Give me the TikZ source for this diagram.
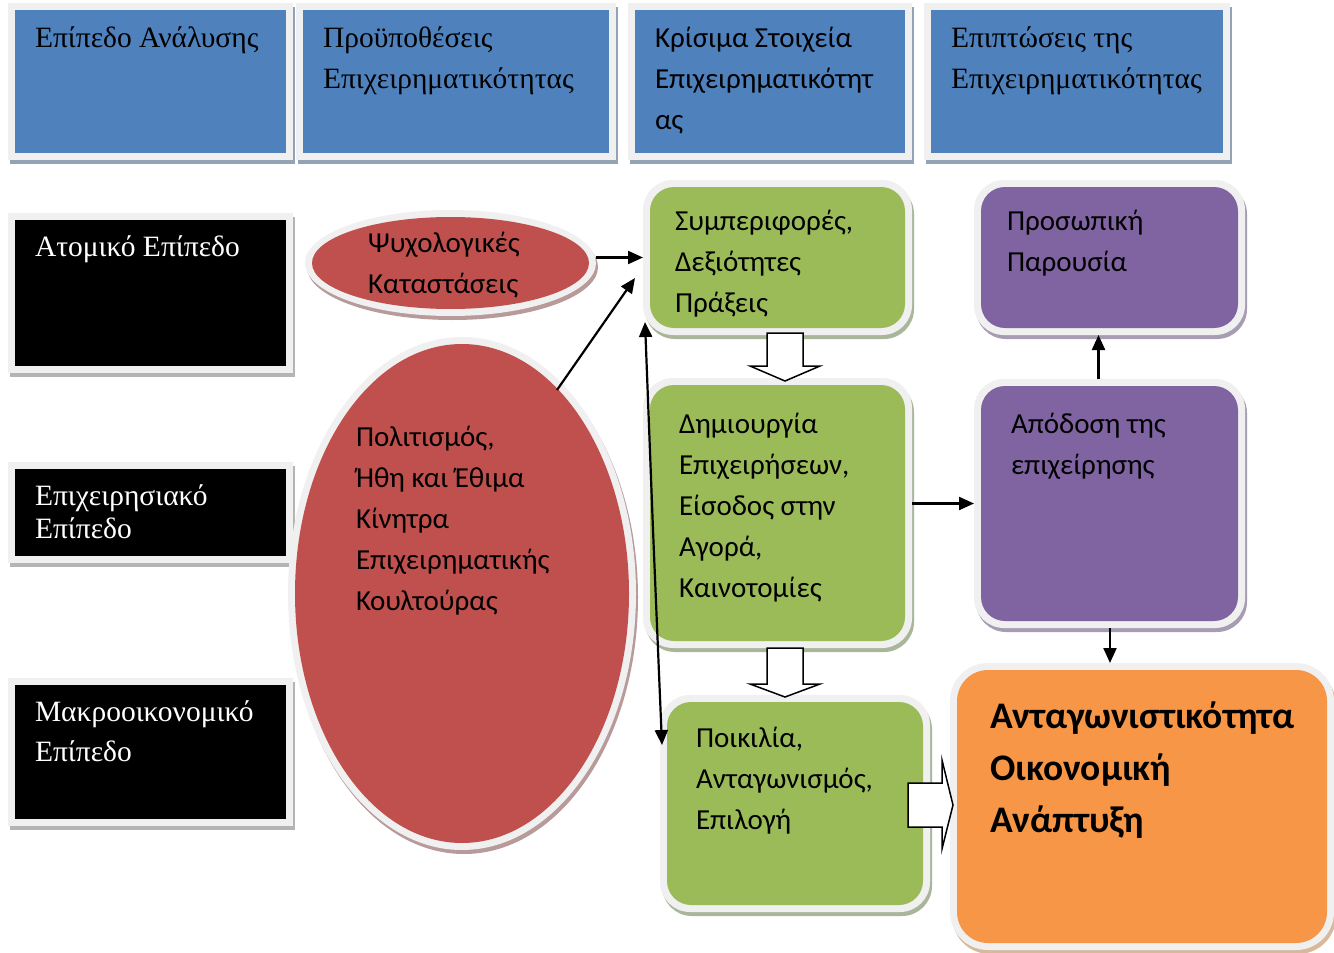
\documentclass[tikz,border=0pt]{standalone}
\usepackage{fontspec}
\setmainfont{Liberation Serif}
\newfontfamily\calib{Carlito}
\usetikzlibrary{shapes.geometric,arrows.meta,calc}
\definecolor{hblue}{HTML}{4F81BD}
\definecolor{rred}{HTML}{C0504D}
\definecolor{ggreen}{HTML}{9BBB59}
\definecolor{ppurple}{HTML}{8064A2}
\definecolor{oorange}{HTML}{F79646}
\definecolor{framegray}{HTML}{F0F0F0}
\definecolor{shblue}{HTML}{93A2B5}
\definecolor{shblack}{HTML}{B4B4B4}
\definecolor{shred}{HTML}{B89A9A}
\definecolor{shgreen}{HTML}{A9B69A}
\definecolor{shpurple}{HTML}{A79DB3}
\definecolor{shorange}{HTML}{D9B99C}
\newcommand\layered[7]{%
  \node[#5, fill=#7, minimum width=#3, minimum height=#4] at ($#2+(2,4)$) {};
  \node[#5, fill=framegray, minimum width=#3, minimum height=#4] (#1) at #2 {};
  \node[#5 inner, fill=#6, minimum width=#3-14, minimum height=#4-14] at (#1.center) {};
}
\begin{document}
\begin{tikzpicture}[x=1pt,y=-1pt,
  sq/.style={rectangle, inner sep=0, outer sep=0},
  sq inner/.style={rectangle, inner sep=0, outer sep=0},
  rnd/.style={rectangle, rounded corners=30pt, inner sep=0, outer sep=0},
  rnd inner/.style={rectangle, rounded corners=24pt, inner sep=0, outer sep=0},
  rndL/.style={rectangle, rounded corners=38pt, inner sep=0, outer sep=0},
  rndL inner/.style={rectangle, rounded corners=31pt, inner sep=0, outer sep=0},
  ell/.style={ellipse, inner sep=0, outer sep=0},
  ell inner/.style={ellipse, inner sep=0, outer sep=0},
  txt/.style={anchor=north west, inner sep=0, outer sep=0, align=left},
  serif/.style={font=\fontsize{29.5}{41}\selectfont},
  sans/.style={font=\calib\fontsize{29}{41}\selectfont},
  bsans/.style={font=\calib\bfseries\fontsize{37.5}{52}\selectfont},
  arr/.style={line width=2.2pt, -{Triangle[length=15pt,width=13pt]}},
  block/.style={draw=black, fill=white, line width=1.5pt, line join=miter}
]
\useasboundingbox (0,0) rectangle (1334,953);
\fill[white] (0,0) rectangle (1334,953);

% header boxes
\layered{h1}{(150.5,81.5)}{285}{157}{sq}{hblue}{shblue}
\layered{h2}{(456,81.5)}{320}{157}{sq}{hblue}{shblue}
\layered{h3}{(770,81.5)}{284}{157}{sq}{hblue}{shblue}
\layered{h4}{(1077,81.5)}{306}{157}{sq}{hblue}{shblue}

% level boxes
\layered{b1}{(150.5,293)}{285}{160}{sq}{black}{shblack}
\layered{b2}{(150.5,512.5)}{285}{101}{sq}{black}{shblack}
\layered{b3}{(150.5,752)}{285}{148}{sq}{black}{shblack}

% ellipses
\layered{e1}{(450.5,263)}{291}{106}{ell}{rred}{shred}
\layered{e2}{(462,593.5)}{348}{513}{ell}{rred}{shred}

% green boxes
\layered{g1}{(777.5,257.5)}{269}{155}{rnd}{ggreen}{shgreen}
\layered{g2}{(777.5,513)}{269}{270}{rnd}{ggreen}{shgreen}
\layered{g3}{(795,803.5)}{270}{217}{rnd}{ggreen}{shgreen}

% purple boxes
\layered{p1}{(1109.5,257.5)}{271}{155}{rnd}{ppurple}{shpurple}
\layered{p2}{(1109.5,503.5)}{271}{249}{rnd}{ppurple}{shpurple}

% orange box
\layered{o1}{(1142,806.5)}{384}{287}{rndL}{oorange}{shorange}

% texts
\node[txt, serif] (th1) at (35,18.3) {\strut Επίπεδο Ανάλυσης};
\node[txt, serif] (th2) at (323,18.3) {\strut Προϋποθέσεις\\Επιχειρηματικότητας};
\node[txt, sans] (th3) at (655,18.3) {\strut Κρίσιμα Στοιχεία\\Επιχειρηματικότητ\\ας};
\node[txt, serif] (th4) at (951,18.3) {\strut Επιπτώσεις της\\Επιχειρηματικότητας};

\node[txt, serif, text=white] (tb1) at (35,227.3) {\strut Ατομικό Επίπεδο};
\node[txt, serif, text=white, font=\fontsize{29.5}{33}\selectfont] (tb2) at (35,481.9) {\strut Επιχειρησιακό\\Επίπεδο};
\node[txt, serif, text=white, font=\fontsize{29.5}{40}\selectfont] (tb3) at (35,693) {\strut Μακροοικονομικό\\Επίπεδο};

\node[txt, sans] (te1) at (368,223.3) {\strut Ψυχολογικές\\Καταστάσεις};
\node[txt, sans] (te2) at (356,417.3) {\strut Πολιτισμός,\\Ήθη και Έθιμα\\Κίνητρα\\Επιχειρηματικής\\Κουλτούρας};

\node[txt, sans] (tg1) at (675,201.3) {\strut Συμπεριφορές,\\Δεξιότητες\\Πράξεις};
\node[txt, sans] (tg2) at (679,404.3) {\strut Δημιουργία\\Επιχειρήσεων,\\Είσοδος στην\\Αγορά,\\Καινοτομίες};
\node[txt, sans] (tg3) at (696,718.3) {\strut Ποικιλία,\\Ανταγωνισμός,\\Επιλογή};

\node[txt, sans] (tp1) at (1007,201.3) {\strut Προσωπική\\Παρουσία};
\node[txt, sans] (tp2) at (1011,404.3) {\strut Απόδοση της\\επιχείρησης};

\node[txt, bsans] (to1) at (990,691.6) {\strut Ανταγωνιστικότητα\\Οικονομική\\Ανάπτυξη};

% connectors
\coordinate (d1) at (557,390);
\coordinate (d2) at (635,278);
\coordinate (v1) at (645,322);
\coordinate (vm) at (653,530);
\coordinate (v2) at (662,745);
\draw[arr] (g1.west -| e1.east) -- (g1.west);
\draw[arr] (d1) -- (d2);
\draw[line width=2.2pt, {Triangle[length=15pt,width=13pt]}-{Triangle[length=15pt,width=13pt]}] (v1) -- (vm) -- (v2);
\draw[arr] (p2.west -| g2.east) -- (p2.west);
\draw[arr] ($(p2.north)+(-11,0)$) -- ($(p1.south)+(-11,0)$);
\coordinate (po) at (1110,663);
\draw[arr] (p2.south -| po) -- (po);

% block arrows
\draw[block] (767,333) -- (803,333) -- (803,366) -- (820,366) -- (785,381) -- (750,366) -- (767,366) -- cycle;
\draw[block] (767,648) -- (803,648) -- (803,684) -- (820,684) -- (785,697) -- (750,684) -- (767,684) -- cycle;
\draw[block] (908,783) -- (942,783) -- (942,760) -- (953,805) -- (942,849) -- (942,827) -- (908,827) -- cycle;
\end{tikzpicture}
\end{document}
